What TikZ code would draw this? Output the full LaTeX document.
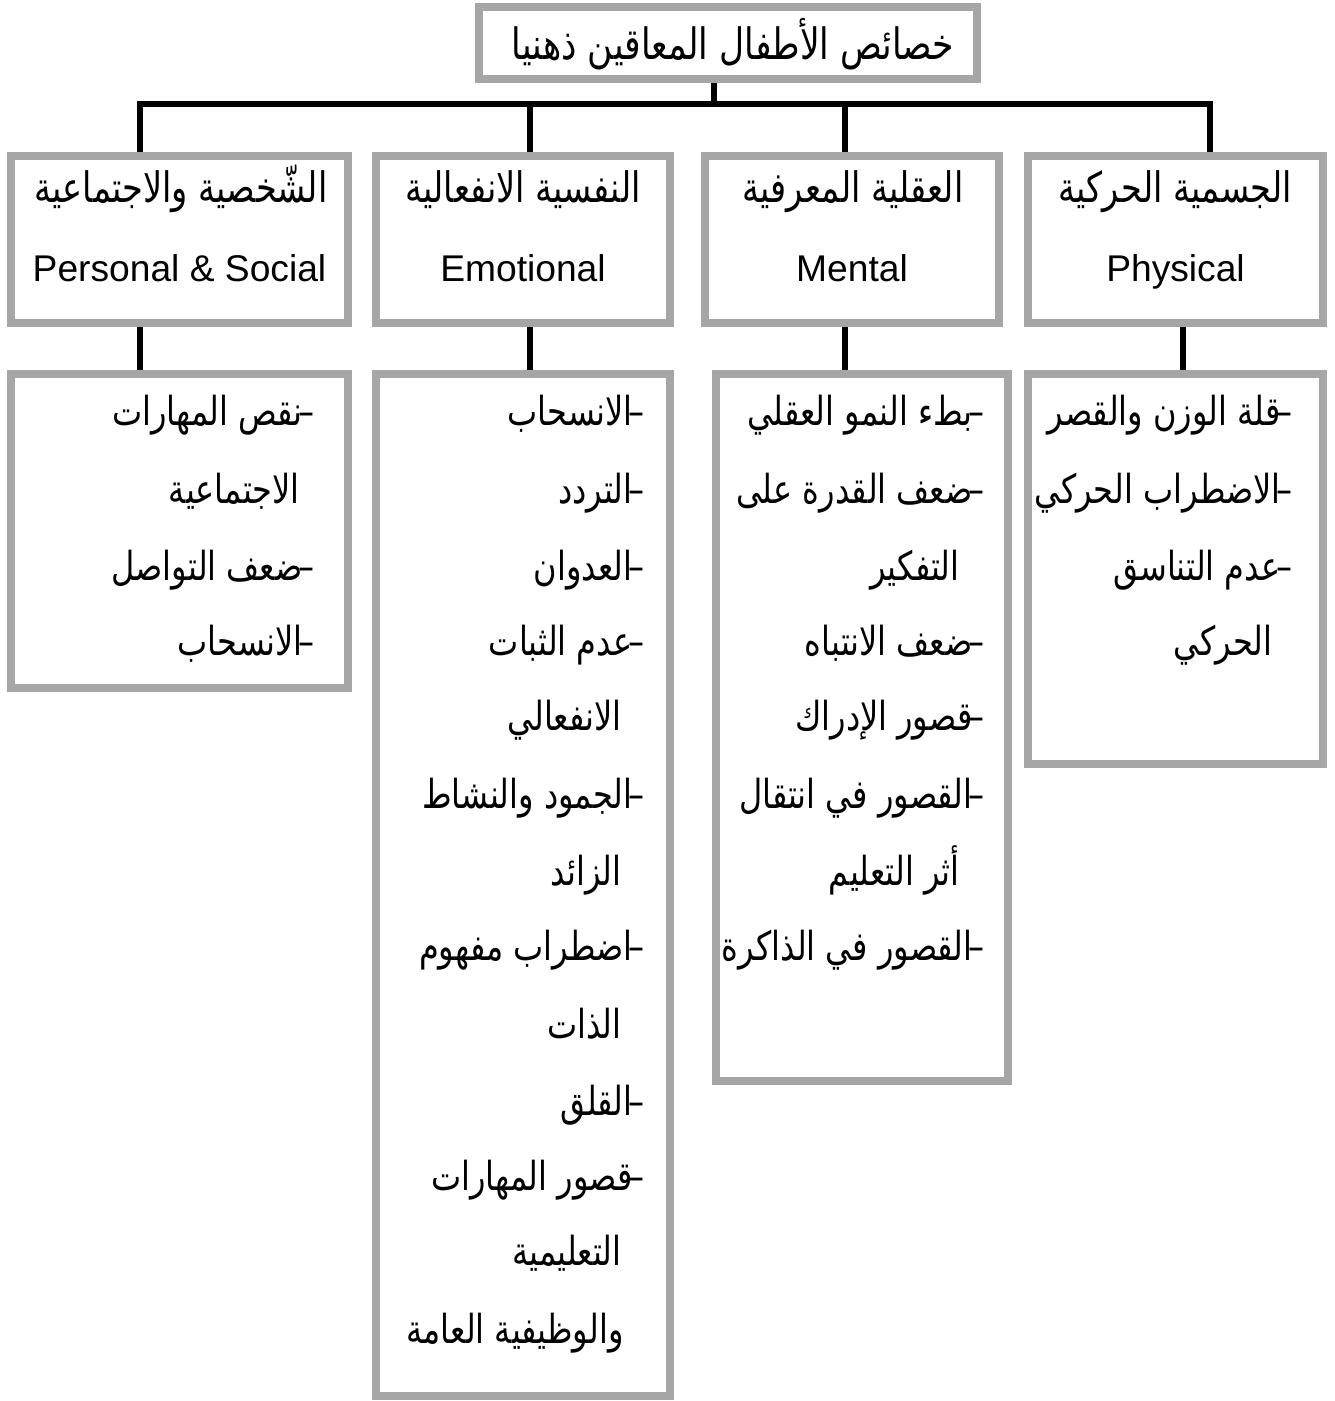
\documentclass[tikz,border=0pt]{standalone}
\usepackage{fontspec}
\setmainfont{Liberation Sans}
\newfontfamily\arabicfont[Script=Arabic,FakeStretch=0.8]{DejaVu Sans}
\TeXXeTstate=1
\newcommand\artxt[2][20]{{\arabicfont\fontsize{#1}{24}\selectfont\beginR #2\endR}}
\newcommand\dsh{–\kern-0.1em}
\definecolor{boxgray}{HTML}{A6A6A6}
\begin{document}
\begin{tikzpicture}[x=0.5pt,y=-0.5pt,
  box/.style={draw=boxgray, line width=4pt, fill=white, inner sep=0pt},
  conn/.style={draw=black, line width=2.6pt},
  lbl/.style={font=\fontsize{18.6}{22}\selectfont, inner sep=0pt, anchor=base},
  item/.style={font=\fontsize{18.6}{22}\selectfont, inner sep=0pt, anchor=base east},
]
\useasboundingbox (0,0) rectangle (1334,1401);
\fill[white] (0,0) rectangle (1334,1401);

% top box
\node[box, minimum width=249pt, minimum height=36pt] (top) at (728,43) {};
\node[lbl] (toplbl) at (733,60) {\artxt[21.6]{خصائص الأطفال المعاقين ذهنيا}};

% category boxes
\node[box, minimum width=168.5pt, minimum height=83.5pt] (catS) at (179.5,239.5) {};
\node[box, minimum width=147pt, minimum height=83.5pt] (catE) at (523,239.5) {};
\node[box, minimum width=147pt, minimum height=83.5pt] (catM) at (852,239.5) {};
\node[box, minimum width=147.5pt, minimum height=83.5pt] (catP) at (1175.5,239.5) {};

\node[lbl] (catSa) at (181,203) {\artxt[21]{الشّخصية والاجتماعية}};
\node[lbl] (catSe) at (179.5,282) {Personal \& Social};
\node[lbl] (catEa) at (523,203) {\artxt[21]{النفسية الانفعالية}};
\node[lbl] (catEe) at (523,282) {Emotional};
\node[lbl] (catMa) at (853,203) {\artxt[21]{العقلية المعرفية}};
\node[lbl] (catMe) at (852,282) {Mental};
\node[lbl] (catPa) at (1175.5,203) {\artxt[21]{الجسمية الحركية}};
\node[lbl] (catPe) at (1175.5,282) {Physical};

% detail boxes
\node[box, minimum width=168.5pt, minimum height=157pt] (detS) at (179.5,531) {};
\node[box, minimum width=147pt, minimum height=511pt] (detE) at (523,885) {};
\node[box, minimum width=146pt, minimum height=353.5pt] (detM) at (862,727.5) {};
\node[box, minimum width=147.5pt, minimum height=195pt] (detP) at (1175.5,569) {};

% connectors
\coordinate (xS) at (140,104);
\coordinate (xE) at (530,104);
\coordinate (xM) at (845,104);
\coordinate (xP) at (1210,104);
\coordinate (xTop) at (714,104);
\coordinate (xPb) at (1183,104);
\draw[conn] (top.south -| xTop) -- (xTop);
\draw[conn] (catS.north -| xS) -- (xS) -- (xP) -- (catP.north -| xP);
\draw[conn] (xE) -- (catE.north -| xE);
\draw[conn] (xM) -- (catM.north -| xM);
\draw[conn] (catS.south -| xS) -- (detS.north -| xS);
\draw[conn] (catE.south -| xE) -- (detE.north -| xE);
\draw[conn] (catM.south -| xM) -- (detM.north -| xM);
\draw[conn] (catP.south -| xPb) -- (detP.north -| xPb);

% Personal & Social items
\node[item] (s1) at (315,425) {\artxt{\dsh نقص المهارات}};
\node[item] (s2) at (300,503) {\artxt{الاجتماعية}};
\node[item] (s3) at (315,580) {\artxt{\dsh ضعف التواصل}};
\node[item] (s4) at (315,655) {\artxt{\dsh الانسحاب}};

% Emotional items
\node[item] (e1) at (645,425) {\artxt{\dsh الانسحاب}};
\node[item] (e2) at (645,503) {\artxt{\dsh التردد}};
\node[item] (e3) at (645,580) {\artxt{\dsh العدوان}};
\node[item] (e4) at (645,655) {\artxt{\dsh عدم الثبات}};
\node[item] (e5) at (622,730) {\artxt{الانفعالي}};
\node[item] (e6) at (645,808) {\artxt{\dsh الجمود والنشاط}};
\node[item] (e7) at (622,885) {\artxt{الزائد}};
\node[item] (e8) at (645,960) {\artxt{\dsh اضطراب مفهوم}};
\node[item] (e9) at (622,1038) {\artxt{الذات}};
\node[item] (e10) at (645,1115) {\artxt{\dsh القلق}};
\node[item] (e11) at (645,1190) {\artxt{\dsh قصور المهارات}};
\node[item] (e12) at (622,1265) {\artxt{التعليمية}};
\node[item] (e13) at (624,1343) {\artxt{والوظيفية العامة}};

% Mental items
\node[item] (m1) at (985,425) {\artxt{\dsh بطء النمو العقلي}};
\node[item] (m2) at (985,503) {\artxt{\dsh ضعف القدرة على}};
\node[item] (m3) at (960,580) {\artxt{التفكير}};
\node[item] (m4) at (985,655) {\artxt{\dsh ضعف الانتباه}};
\node[item] (m5) at (985,730) {\artxt{\dsh قصور الإدراك}};
\node[item] (m6) at (985,808) {\artxt{\dsh القصور في انتقال}};
\node[item] (m7) at (960,885) {\artxt{أثر التعليم}};
\node[item] (m8) at (985,960) {\artxt{\dsh القصور في الذاكرة}};

% Physical items
\node[item] (p1) at (1293,425) {\artxt{\dsh قلة الوزن والقصر}};
\node[item] (p2) at (1293,503) {\artxt{\dsh الاضطراب الحركي}};
\node[item] (p3) at (1293,580) {\artxt{\dsh عدم التناسق}};
\node[item] (p4) at (1273,655) {\artxt{الحركي}};
\end{tikzpicture}
\end{document}
